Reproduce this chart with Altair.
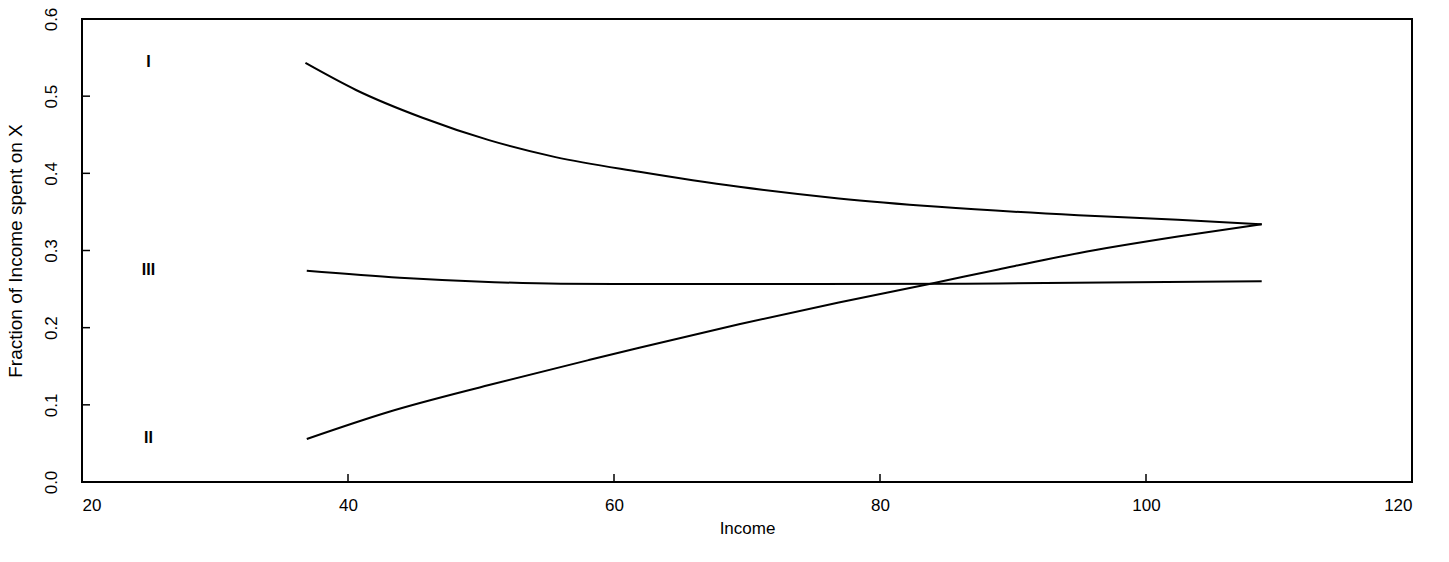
import altair as alt
import pandas as pd

# Curve I
income_I = [36.8, 40.6, 45.6, 50.6, 55.6, 61.9, 69.4, 76.9, 84.4, 94.9, 102.4, 108.7]
frac_I = [0.543, 0.508, 0.472, 0.443, 0.421, 0.402, 0.3825, 0.3675, 0.3566, 0.3458, 0.340, 0.334]
# Curve II
income_II = [36.9, 43.1, 50.6, 58.1, 61.9, 69.4, 76.9, 83.9, 88.9, 94.9, 102.4, 108.7]
frac_II = [0.0557, 0.091, 0.1256, 0.158, 0.174, 0.2045, 0.2326, 0.2573, 0.2755, 0.2965, 0.318, 0.334]
# Curve III
income_III = [36.9, 43.9, 51.0, 56.0, 61.9, 75.0, 88.9, 103.9, 108.7]
frac_III = [0.2737, 0.2647, 0.259, 0.257, 0.2565, 0.2565, 0.2573, 0.2595, 0.260]

# Curve labels
label_text = ["I", "III", "II"]
label_x = [25, 25, 25]
label_y = [0.544, 0.2746, 0.057]

x_ticks = [20, 40, 60, 80, 100, 120]
y_ticks = [0.0, 0.1, 0.2, 0.3, 0.4, 0.5, 0.6]

W, H = 1330, 463

rows = []
for name, xs, ys in [("I", income_I, frac_I), ("II", income_II, frac_II), ("III", income_III, frac_III)]:
    for a, b in zip(xs, ys):
        rows.append({"curve": name, "Income": a, "Fraction": b})
df = pd.DataFrame(rows)
labels_df = pd.DataFrame({"t": label_text, "Income": label_x, "Fraction": label_y})
xt_df = pd.DataFrame({"v": x_ticks})
yt_df = pd.DataFrame({"v": y_ticks})

xscale = alt.Scale(domain=[20, 120], nice=False, zero=False)
yscale = alt.Scale(domain=[0, 0.6], nice=False)

FONT = "Liberation Sans"

x_axis = alt.Axis(values=x_ticks, format="d", labelFontSize=17, labelFont=FONT, labelColor="black",
                  tickSize=0, labelPadding=15, domain=False, grid=False,
                  title="Income", titleFontSize=17, titleFont=FONT, titleFontWeight="normal",
                  titleColor="black", titleY=46, titleBaseline="middle")
y_axis = alt.Axis(values=y_ticks, format=".1f", labelFontSize=17, labelFont=FONT, labelColor="black",
                  labelAngle=270, labelAlign="center", labelBaseline="bottom",
                  tickSize=0, labelPadding=22, domain=False, grid=False,
                  title="Fraction of Income spent on X", titleFontSize=19, titleFont=FONT,
                  titleFontWeight="normal", titleColor="black", titleAngle=270,
                  titleAlign="center", titleBaseline="middle", titleX=-67, titleY=H / 2)

lines = alt.Chart(df).mark_line(color="black", strokeWidth=2, interpolate="monotone").encode(
    x=alt.X("Income:Q", scale=xscale, axis=x_axis),
    y=alt.Y("Fraction:Q", scale=yscale, axis=y_axis),
    detail="curve:N",
)

texts = alt.Chart(labels_df).mark_text(font=FONT, fontSize=16, fontWeight="bold", color="black").encode(
    x=alt.X("Income:Q", scale=xscale),
    y=alt.Y("Fraction:Q", scale=yscale),
    text="t:N",
)

xt = alt.Chart(xt_df).mark_rule(color="black", strokeWidth=1.5).encode(
    x=alt.X("v:Q", scale=xscale),
    y=alt.value(H),
    y2=alt.value(H - 8),
)
yt = alt.Chart(yt_df).mark_rule(color="black", strokeWidth=1.5).encode(
    y=alt.Y("v:Q", scale=yscale),
    x=alt.value(0),
    x2=alt.value(8),
)

chart = alt.layer(lines, texts, xt, yt).properties(
    width=W, height=H,
    autosize=alt.AutoSizeParams(type="none"),
    padding={"left": 82, "top": 19, "right": 37, "bottom": 80},
    background="white",
).configure_view(stroke="black", strokeWidth=2)

chart.save("out.html", embed_options={"renderer": "svg", "actions": False})
